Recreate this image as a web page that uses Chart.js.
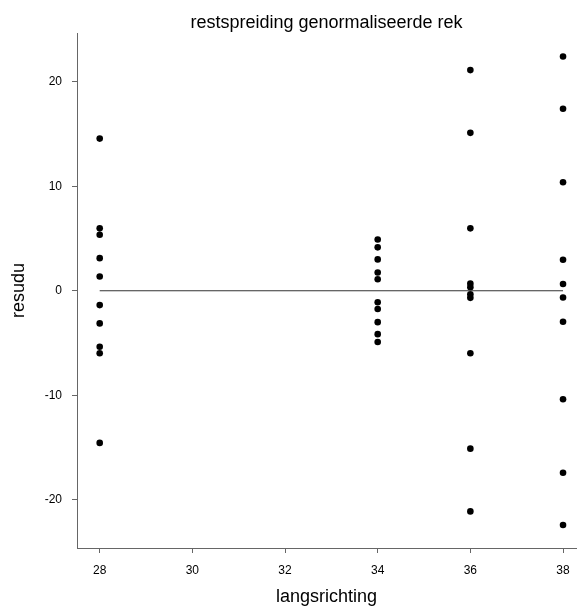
<!DOCTYPE html>
<html>
<head>
<meta charset="utf-8">
<script src="https://cdn.jsdelivr.net/npm/chart.js@4"></script>
<style>
  html, body { margin: 0; padding: 0; background: #fff; }
</style>
</head>
<body>
<canvas id="residuChart" width="580" height="608"></canvas>
<script>
// residuals per position (langsrichting)
const positions = [28, 34, 36, 38];
const res28 = [14.55, 5.97, 5.35, 3.12, 1.37, -1.37, -3.12, -5.35, -5.97, -14.55];
const res34 = [4.9, 4.15, 3.0, 1.75, 1.1, -1.1, -1.75, -3.0, -4.15, -4.9];
const res36 = [21.1, 15.1, 5.97, 0.68, 0.33, -0.33, -0.68, -5.97, -15.1, -21.1];
const res38 = [22.4, 17.4, 10.37, 2.97, 0.64, -0.64, -2.97, -10.37, -17.4, -22.4];
const xTicks = [28, 30, 32, 34, 36, 38];
const yTicks = [-20, -10, 0, 10, 20];

const groups = [res28, res34, res36, res38];
const points = [];
groups.forEach((vals, i) => {
  vals.forEach(v => points.push({ x: positions[i], y: v }));
});

// horizontal reference line at 0 from first to last position
const zeroLine = [
  { x: positions[0], y: 0 },
  { x: positions[positions.length - 1], y: 0 }
];

const axisColor = '#666';
const font = 'Liberation Sans, Arial, sans-serif';

const ctx = document.getElementById('residuChart').getContext('2d');
new Chart(ctx, {
  type: 'scatter',
  data: {
    datasets: [
      {
        label: 'nul',
        type: 'line',
        data: zeroLine,
        borderColor: '#333',
        borderWidth: 1,
        pointRadius: 0,
        fill: false
      },
      {
        label: 'residu',
        data: points,
        backgroundColor: '#000',
        borderColor: '#000',
        borderWidth: 0,
        pointRadius: 3.3
      }
    ]
  },
  options: {
    responsive: false,
    animation: false,
    layout: { padding: 0 },
    plugins: {
      legend: { display: false },
      tooltip: { enabled: false },
      title: {
        display: true,
        fullSize: false,
        text: 'restspreiding genormaliseerde rek',
        color: '#000',
        font: { family: font, size: 18, weight: 'normal', lineHeight: 1 },
        padding: { top: 14, bottom: 1 }
      }
    },
    scales: {
      x: {
        type: 'linear',
        min: 27.51,
        max: 38.28,
        afterFit: scale => { scale.height = 60; },
        afterBuildTicks: scale => { scale.ticks = xTicks.map(v => ({ value: v })); },
        border: { display: true, color: axisColor, width: 1 },
        grid: { drawOnChartArea: false, color: axisColor, tickLength: 5 },
        ticks: {
          color: '#000',
          font: { family: font, size: 12 },
          padding: 10,
          maxRotation: 0
        },
        title: {
          display: true,
          text: 'langsrichting',
          color: '#000',
          font: { family: font, size: 18 },
          padding: { top: 0, bottom: 0 }
        }
      },
      y: {
        type: 'linear',
        min: -24.6,
        max: 24.65,
        afterFit: scale => { scale.width = 77; },
        afterBuildTicks: scale => { scale.ticks = yTicks.map(v => ({ value: v })); },
        border: { display: true, color: axisColor, width: 1 },
        grid: { drawOnChartArea: false, color: axisColor, tickLength: 5 },
        ticks: {
          color: '#000',
          font: { family: font, size: 12 },
          padding: 10
        },
        title: {
          display: true,
          text: 'resudu',
          color: '#000',
          font: { family: font, size: 18 },
          padding: { top: 8, bottom: 0 }
        }
      }
    }
  }
});
</script>
</body>
</html>
